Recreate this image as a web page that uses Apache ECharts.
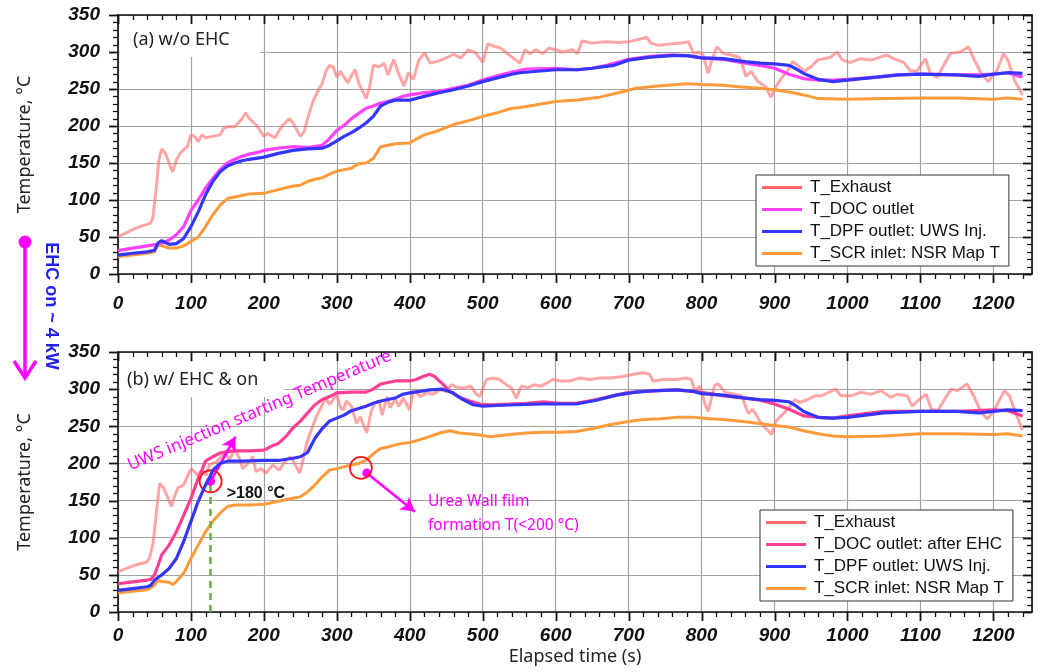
<!DOCTYPE html>
<html><head><meta charset="utf-8">
<script src="https://cdn.jsdelivr.net/npm/echarts@6/dist/echarts.min.js"></script>
<style>html,body{margin:0;padding:0;background:#fff}#c{width:1040px;height:672px}</style>
</head><body><div id="c"></div>
<script>
// ---------- DATA ----------
const xTickStep = 100, xMinorStep = 20, xMax = 1253, xLastTick = 1240;
const yTickStep = 50, yMinorStep = 10, yMax = 350;

const topExhaust = [[0,50.5],[10,55],[20,60],[30,64],[40,67],[45,69],[48,77],[50,95],[53,122],[56,154],[60,169],[65,163],[70,150],[75,138],[80,154],[85,163],[90,168],[95,172],[100,188],[105,186],[110,179],[115,188],[120,184],[130,186],[140,188],[145,197],[150,199],[160,199],[165,204],[170,210],[175,218],[180,210],[190,201],[200,186],[205,190],[215,184],[225,200],[235,210],[240,204],[250,186],[255,192],[262,217],[268,235],[275,249],[280,258],[285,274],[290,282],[295,280],[300,266],[305,274],[315,258],[320,268],[325,276],[330,258],[340,237],[345,253],[350,282],[358,280],[365,285],[370,269],[378,290],[385,270],[392,254],[398,272],[405,263],[412,288],[420,299],[428,285],[440,288],[450,292],[460,297],[470,292],[480,303],[490,299],[500,286],[507,311],[515,308],[525,305],[535,297],[551,285],[558,303],[565,298],[573,303],[582,298],[591,305],[600,303],[609,300],[623,303],[630,298],[636,315],[650,312],[668,314],[687,313],[700,314],[714,317],[725,320],[730,312],[741,309],[759,311],[773,312],[782,314],[789,298],[796,300],[802,296],[809,271],[814,289],[821,307],[830,298],[841,296],[852,293],[861,267],[868,274],[877,260],[888,253],[895,239],[902,253],[909,264],[918,275],[925,287],[932,282],[941,274],[950,280],[959,289],[968,291],[977,293],[986,300],[993,289],[1004,286],[1018,291],[1032,289],[1045,293],[1054,296],[1063,291],[1077,286],[1086,275],[1095,274],[1107,291],[1114,270],[1123,266],[1132,282],[1141,298],[1155,300],[1166,307],[1173,291],[1184,270],[1193,260],[1205,275],[1214,298],[1220,289],[1229,262],[1236,249],[1240,242]];
const topDOC = [[0,31.5],[20,35],[40,38],[60,41],[70,46],[80,53],[90,64],[100,86],[110,100],[120,116],[130,129],[140,141],[150,150],[160,155],[170,159],[180,162],[190,164],[200,167],[220,170],[240,172],[260,171],[280,174],[290,183],[300,194],[310,201],[320,210],[330,217],[340,224],[350,227],[360,231],[370,233],[380,236],[390,240],[400,242],[420,245],[440,247],[460,251],[480,255],[500,262],[520,268],[540,273],[560,277],[600,278],[630,276],[650,278],[670,282],[700,290],[730,294],[760,296],[780,295],[800,292],[830,290],[860,285],[880,282],[900,278],[920,270],[940,264],[960,262],[980,262],[1000,263],[1040,266],[1070,269],[1100,270],[1150,269],[1180,269],[1200,270],[1220,272],[1240,266]];
const topDPF = [[0,25.5],[20,28],[40,30],[50,32],[55,42],[60,45],[70,40],[80,41],[90,48],[100,64],[110,84],[120,107],[130,125],[140,138],[150,146],[160,150],[170,153],[180,155],[200,158],[220,163],[240,167],[260,169],[280,170],[290,174],[300,180],[310,186],[320,191],[330,197],[340,204],[350,213],[360,227],[370,232],[380,235],[400,235],[420,240],[440,245],[460,249],[480,254],[500,260],[520,265],[540,270],[551,272],[600,276],[630,276],[650,278],[680,282],[700,289],[730,293],[760,295],[780,295],[800,292],[830,291],[860,287],[880,285],[900,284],[920,282],[930,277],[940,271],[960,263],[980,260],[1000,262],[1040,266],[1070,269],[1100,270],[1150,269],[1180,267],[1200,270],[1220,272],[1240,271]];
const topSCR = [[0,23.5],[20,25.5],[40,28],[50,30],[55,39],[60,38],[70,35],[80,35],[90,38],[100,44],[110,50],[120,64],[130,80],[140,93],[150,102],[160,104],[180,108],[200,109],[220,114],[240,119],[250,120],[260,125],[270,128],[280,130],[290,135],[300,139],[320,143],[330,149],[340,150],[350,156],[360,172],[370,174],[380,176],[400,177],[410,183],[420,188],[440,194],[460,202],[480,207],[500,213],[520,218],[540,224],[551,225],[570,228],[600,233],[630,235],[660,239],[690,246],[710,251],[740,254],[780,257],[800,256],[830,255],[850,253],[880,251],[900,249],[920,246],[940,242],[960,237],[1000,236],[1050,237],[1100,238],[1150,238],[1200,236],[1220,238],[1240,236]];

const botExhaust = [[0,54],[10,58],[20,62],[30,65],[39,67],[43,72],[48,92],[52,128],[57,173],[62,168],[67,157],[73,142],[78,157],[82,167],[90,171],[98,189],[101,193],[109,184],[115,191],[121,184],[125,198],[135,202],[146,214],[153,205],[160,220],[167,205],[171,193],[178,200],[185,209],[189,189],[196,193],[203,187],[212,198],[221,191],[231,205],[237,209],[244,196],[249,187],[253,202],[258,225],[265,245],[272,263],[279,277],[285,288],[290,279],[296,288],[300,293],[305,275],[309,272],[313,284],[320,277],[327,254],[332,263],[338,248],[341,241],[347,270],[352,281],[358,284],[362,265],[369,290],[373,275],[380,286],[385,277],[391,288],[396,279],[400,272],[405,299],[414,290],[423,295],[432,293],[441,299],[450,297],[457,306],[466,302],[475,302],[484,304],[491,293],[496,290],[505,313],[514,315],[523,313],[532,306],[539,302],[546,288],[553,304],[562,302],[571,306],[580,304],[587,308],[596,313],[608,311],[619,311],[633,315],[647,313],[660,315],[674,315],[692,317],[706,320],[720,322],[729,320],[733,311],[748,313],[766,313],[779,315],[786,313],[791,297],[798,304],[805,279],[809,270],[818,305],[823,307],[832,296],[846,293],[855,291],[864,267],[870,273],[880,257],[889,246],[896,239],[902,257],[909,264],[918,273],[928,286],[934,282],[946,286],[955,291],[964,291],[975,296],[984,300],[991,291],[1005,291],[1019,296],[1032,293],[1046,298],[1059,289],[1068,293],[1082,291],[1089,277],[1096,284],[1108,293],[1115,273],[1124,271],[1133,286],[1142,300],[1151,298],[1164,307],[1174,289],[1183,269],[1192,260],[1201,271],[1215,298],[1222,291],[1231,267],[1240,245]];
const botDOC = [[0,38],[20,40.5],[40,43],[45,44],[50,50],[55,63],[60,77],[70,90],[80,108],[90,130],[100,153],[110,180],[115,191],[120,203],[130,209],[140,214],[150,216],[160,217],[180,217],[200,218],[210,223],[220,227],[230,236],[240,248],[250,257],[260,268],[270,279],[280,286],[290,290],[300,295],[320,296],[340,296],[350,300],[360,307],[380,311],[400,311],[409,313],[418,317],[427,320],[434,317],[446,306],[455,297],[468,289],[482,284],[496,280],[510,279],[537,280],[560,281],[583,283],[605,281],[628,281],[651,285],[674,290],[697,295],[720,297],[743,298],[766,299],[789,297],[812,294],[830,291],[860,288],[880,285],[900,280],[920,273],[940,264],[960,262],[980,261],[1000,264],[1050,270],[1100,270],[1150,270],[1200,272],[1220,271],[1240,264]];
const botDPF = [[0,29],[20,31.5],[40,34],[45,36],[50,43],[60,50],[70,58.5],[80,72],[90,95],[100,122],[110,149],[120,171],[125,180],[130,191],[140,200],[150,203],[170,203],[200,204],[220,204],[240,207],[250,209],[260,215],[270,234],[280,247],[290,257],[300,261],[310,265],[320,271],[330,274],[340,277],[350,281],[360,284],[370,286],[380,288],[390,293],[400,295],[414,297],[427,299],[445,300],[459,295],[473,286],[487,279],[500,277],[519,278],[546,279],[583,280],[610,280],[628,280],[656,285],[683,292],[710,296],[738,298],[766,299],[789,297],[800,294],[830,292],[860,288],[880,286],[900,285],[920,283],[930,277],[940,270],[960,262],[980,261],[1000,262],[1050,268],[1100,270],[1150,270],[1180,268],[1200,270],[1220,272],[1240,271]];
const botSCR = [[0,26],[20,28],[40,30],[50,36],[55,43],[60,41],[70,40],[75,37],[80,41],[90,52],[100,72],[110,90],[120,108],[130,122],[140,133],[150,142],[160,144],[180,144],[200,145],[220,149],[240,153],[250,155],[260,162],[270,171],[280,182],[290,191],[300,193],[320,198],[330,200],[340,204],[350,213],[360,220],[370,222],[380,225],[390,227],[400,228],[414,232],[427,236],[441,241],[455,244],[468,241],[491,239],[510,236],[537,239],[560,241],[583,242],[605,242],[628,243],[651,247],[674,252],[697,256],[720,259],[743,260],[766,262],[789,262],[812,260],[830,259],[860,256],[900,251],[920,249],[940,244],[960,240],[980,237],[1000,236],[1050,237],[1100,240],[1150,240],[1200,239],[1220,240],[1240,237]];

const topNames = ['T_Exhaust','T_DOC outlet','T_DPF outlet: UWS Inj.','T_SCR inlet: NSR Map T'];
const botNames = ['T_Exhaust','T_DOC outlet: after EHC','T_DPF outlet: UWS Inj.','T_SCR inlet: NSR Map T'];

// annotation anchors (data coordinates, bottom panel)
const uwsPoint = [127, 176];
const uwsArrowTip = [161, 236];
const ureaCircle = [333, 194];
const ureaDot = [341, 187];
const ureaArrowTip = [407, 135];

// ---------- STYLE ----------
const C = {exh:'rgba(255,110,110,0.62)', exhLeg:'#ff6666', docTop:'#ff40ff', docBot:'#ff3f93', dpf:'#3535ff', scr:'#ff9a3a'};
const AX = '#111';
const labelFont = {fontFamily:'Liberation Sans, Arial', fontWeight:'bold', fontStyle:'italic', fontSize:19, color:'#111'};

function xAx(grid, pos, lblMargin, withName){
  const main = pos === 'bottom';
  return {
    gridIndex: grid, type:'value', position: pos, min:0, max:xMax, interval:xTickStep,
    name: withName ? 'Elapsed time (s)' : '', nameLocation:'middle', nameGap:36,
    nameTextStyle:{fontFamily:'Noto Sans', fontSize:18, color:'#222'},
    axisLine:{show:true, onZero:false, lineStyle:{color:AX, width:1.6}},
    axisTick:{show:false}, minorTick:{show:false},
    axisLabel: main ? Object.assign({show:true, margin:lblMargin, formatter: v => (v % xTickStep === 0 ? String(v) : '')}, labelFont) : {show:false},
    splitLine:{show: main, lineStyle:{color:'#a3a3a3', width:1.2}}
  };
}
function yAx(grid, pos){
  const main = pos === 'left';
  return {
    gridIndex: grid, type:'value', position: pos, min:0, max:yMax, interval:yTickStep,
    name: main ? 'Temperature, °C' : '', nameLocation:'middle', nameGap:84, nameRotate:90,
    nameTextStyle:{fontFamily:'Noto Sans', fontSize:18, color:'#222'},
    axisLine:{show:true, onZero:false, lineStyle:{color:AX, width:1.6}},
    axisTick:{show:false}, minorTick:{show:false},
    axisLabel: main ? Object.assign({show:true, margin:18}, labelFont) : {show:false},
    splitLine:{show: main, lineStyle:{color:'#a3a3a3', width:1.2}}
  };
}
function line(name, data, color, xi, yi, w, z){
  return {type:'line', name, data, xAxisIndex:xi, yAxisIndex:yi, showSymbol:false, symbol:'none',
    lineStyle:{color, width:w}, itemStyle:{color}, z, silent:true, animation:false};
}
function legend(names, left, top, colors){
  return {
    orient:'vertical', left, top, selectedMode:false, icon:'rect', itemWidth:40, itemHeight:3, itemGap:5,
    padding:[4,9,4,6], borderColor:'#333', borderWidth:1, backgroundColor:'#fff',
    textStyle:{fontFamily:'Liberation Sans, Arial', fontSize:17, color:'#111', padding:[0,0,0,3]},
    data: names.map((n,i)=>({name:n, itemStyle:{color:colors[i]}}))
  };
}

const chart = echarts.init(document.getElementById('c'), null, {renderer:'canvas'});

const dpfBot = line(botNames[2], botDPF, C.dpf, 2, 2, 3.2, 5);
dpfBot.markLine = {
  silent:true, animation:false, label:{show:false},
  data:[
    [{coord:[uwsPoint[0],0], symbol:'none', lineStyle:{color:'#6fae3f', width:2.6, type:[7,5]}}, {coord:uwsPoint, symbol:'none'}],
    [{coord:uwsPoint, symbol:'circle', symbolSize:9, lineStyle:{color:'#ff00ff', width:2.6, type:'solid'}}, {coord:uwsArrowTip, symbol:'arrow', symbolSize:[12,14]}],
    [{coord:ureaDot, symbol:'circle', symbolSize:9, lineStyle:{color:'#ff00ff', width:2.6, type:'solid'}}, {coord:ureaArrowTip, symbol:'arrow', symbolSize:[12,14]}]
  ]
};
dpfBot.markPoint = {
  silent:true, animation:false, label:{show:false},
  data:[
    {coord:uwsPoint, symbol:'circle', symbolSize:22, itemStyle:{color:'rgba(0,0,0,0)', borderColor:'#ff1a1a', borderWidth:1.8}},
    {coord:ureaCircle, symbol:'circle', symbolSize:22, itemStyle:{color:'rgba(0,0,0,0)', borderColor:'#ff1a1a', borderWidth:1.8}}
  ]
};

chart.setOption({
  animation:false,
  backgroundColor:'#fff',
  grid:[{left:118, top:15, width:914, height:259}, {left:118, top:352, width:914, height:260}],
  xAxis:[xAx(0,'bottom',20,false), xAx(0,'top',0,false), xAx(1,'bottom',14,true), xAx(1,'top',0,false)],
  yAxis:[yAx(0,'left'), yAx(0,'right'), yAx(1,'left'), yAx(1,'right')],
  legend:[
    legend(topNames, 756, 175, [C.exhLeg, C.docTop, C.dpf, C.scr]),
    legend(botNames, 760, 510, [C.exhLeg, C.docBot, C.dpf, C.scr])
  ],
  series:[
    line(topNames[0], topExhaust, C.exh, 0, 0, 3, 2),
    line(topNames[1], topDOC, C.docTop, 0, 0, 3.2, 3),
    line(topNames[3], topSCR, C.scr, 0, 0, 3, 4),
    line(topNames[2], topDPF, C.dpf, 0, 0, 3.2, 5),
    line(botNames[0], botExhaust, C.exh, 2, 2, 3, 2),
    line(botNames[1], botDOC, C.docBot, 2, 2, 3.2, 3),
    line(botNames[3], botSCR, C.scr, 2, 2, 3, 4),
    dpfBot
  ]
});

// ---- ticks (positions from the axes' own scales) ----
const tickEls = [];
function addTicks(xi, yi){
  const xp = v => chart.convertToPixel({xAxisIndex:xi}, v);
  const yp = v => chart.convertToPixel({yAxisIndex:yi}, v);
  const yB = yp(0), yT = yp(yMax), xL = xp(0), xR = xp(xMax);
  const st = w => ({stroke:AX, lineWidth:w});
  for (let v = 0; v <= xLastTick; v += xMinorStep){
    const major = v % xTickStep === 0, L = major ? 9 : 5, w = major ? 1.8 : 1.3, x = Math.round(xp(v)) + 0.5;
    tickEls.push({type:'line', z:60, silent:true, shape:{x1:x, y1:yB, x2:x, y2:yB + L}, style:st(w)});
    tickEls.push({type:'line', z:60, silent:true, shape:{x1:x, y1:yT, x2:x, y2:yT + L}, style:st(w)});
  }
  for (let v = 0; v <= yMax; v += yMinorStep){
    const major = v % yTickStep === 0, L = major ? 9 : 5, w = major ? 1.8 : 1.3, y = Math.round(yp(v)) + 0.5;
    tickEls.push({type:'line', z:60, silent:true, shape:{x1:xL - L, y1:y, x2:xL, y2:y}, style:st(w)});
    tickEls.push({type:'line', z:60, silent:true, shape:{x1:xR - L, y1:y, x2:xR, y2:y}, style:st(w)});
  }
}
addTicks(0, 0);
addTicks(2, 2);

const P = pt => chart.convertToPixel({xAxisIndex:2, yAxisIndex:2}, pt);
const uwsTxt = P([194, 271]);
const gt = P([149, 160]);
const urea1 = P([425, 148]);
const urea2 = P([425, 117]);
const magenta = '#ff00ff';

chart.setOption({
  graphic: tickEls.concat([
    {type:'rect', z:1, shape:{x:120, y:17, width:140, height:40}, style:{fill:'#fff'}},
    {type:'text', z:50, x:133, y:40, style:{text:'(a) w/o EHC', fontFamily:'Noto Sans', fontSize:18, fill:'#222', verticalAlign:'middle'}},
    {type:'rect', z:1, shape:{x:120, y:362, width:165, height:35}, style:{fill:'#fff'}},
    {type:'text', z:50, x:127, y:380, style:{text:'(b) w/ EHC & on', fontFamily:'Noto Sans', fontSize:18, fill:'#222', verticalAlign:'middle'}},
    {type:'text', z:50, x:uwsTxt[0], y:uwsTxt[1], rotation:0.40, style:{text:'UWS injection starting Temperature', fontFamily:'Noto Sans', fontSize:17, fill:magenta, align:'center', verticalAlign:'middle'}},
    {type:'text', z:50, x:gt[0], y:gt[1], style:{text:'>180 °C', fontFamily:'Liberation Sans, Arial', fontWeight:'bold', fontSize:16, fill:'#111', verticalAlign:'middle'}},
    {type:'text', z:50, x:urea1[0], y:urea1[1], style:{text:'Urea Wall film', fontFamily:'Noto Sans', fontSize:15.5, fill:magenta, verticalAlign:'middle'}},
    {type:'text', z:50, x:urea2[0], y:urea2[1], style:{text:'formation T(<200 °C)', fontFamily:'Noto Sans', fontSize:15.5, fill:magenta, verticalAlign:'middle'}},
    {type:'circle', z:50, shape:{cx:25, cy:242, r:6.5}, style:{fill:magenta}},
    {type:'line', z:50, shape:{x1:25, y1:242, x2:25, y2:377}, style:{stroke:magenta, lineWidth:3.5}},
    {type:'polyline', z:50, shape:{points:[[14,361],[25,378],[36,361]]}, style:{stroke:magenta, lineWidth:3.5, fill:null}},
    {type:'text', z:50, x:51, y:306, rotation:-Math.PI/2, style:{text:'EHC on ~ 4 kW', fontFamily:'Liberation Sans, Arial', fontWeight:'bold', fontSize:18, fill:'#2020f0', align:'center', verticalAlign:'middle'}}
  ])
});
</script></body></html>
